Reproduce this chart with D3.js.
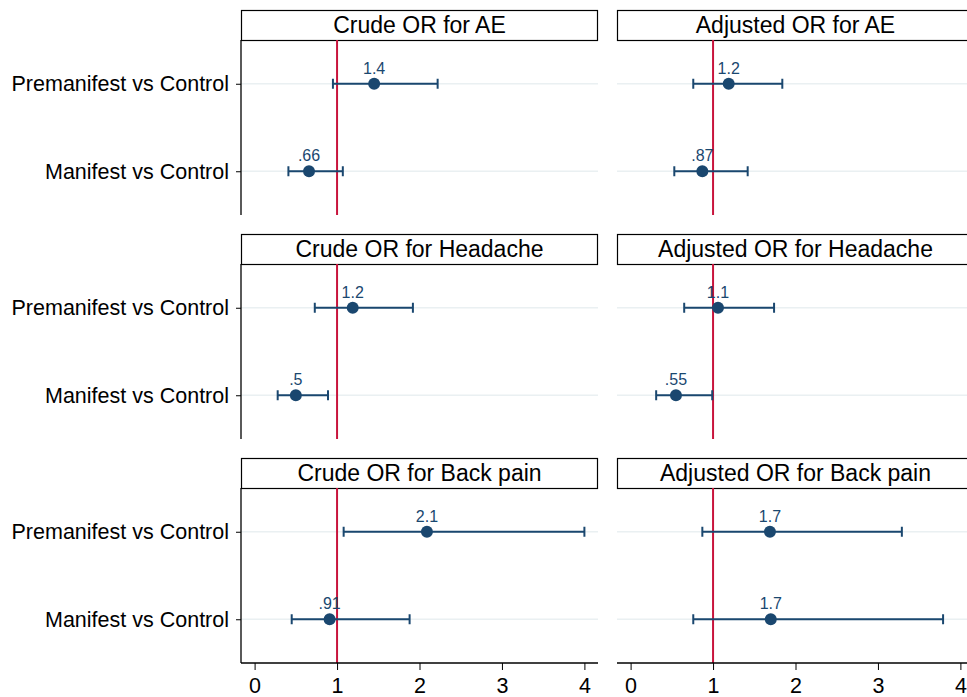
<!DOCTYPE html>
<html>
<head>
<meta charset="utf-8">
<script src="https://cdn.jsdelivr.net/npm/d3@7"></script>
<style>
  body { margin: 0; background: #fff; }
  text { font-family: "Liberation Sans", Arial, sans-serif; }
</style>
</head>
<body>
<div id="chart"></div>
<script>
// outcomes (rows of panels) and comparisons (rows inside a panel)
const outcomes = ["AE", "Headache", "Back pain"];
const categories = ["Premanifest vs Control", "Manifest vs Control"];
const xTicks = [0, 1, 2, 3, 4];

// crude odds ratios with 95% CI, one pair per outcome
const crudeOR = [[1.45, 0.66], [1.19, 0.50], [2.09, 0.91]];
const crudeLo = [[0.95, 0.41], [0.73, 0.28], [1.08, 0.45]];
const crudeHi = [[2.22, 1.07], [1.92, 0.89], [4.00, 1.88]];
const crudeLabels = [["1.4", ".66"], ["1.2", ".5"], ["2.1", ".91"]];

// adjusted odds ratios
const adjOR = [[1.19, 0.87], [1.06, 0.55], [1.69, 1.70]];
const adjLo = [[0.76, 0.53], [0.65, 0.31], [0.87, 0.76]];
const adjHi = [[1.84, 1.42], [1.74, 0.99], [3.29, 3.79]];
const adjLabels = [["1.2", ".87"], ["1.1", ".55"], ["1.7", "1.7"]];

const W = 967, H = 697;
const colX = [241, 617], panelW = 357;
const rowTop = [10, 234, 458], titleH = 30, plotH = 175;
const navy = "#1a476f", red = "#c8143c";

const svg = d3.select("#chart").append("svg")
    .attr("width", W).attr("height", H);

const x = d3.scaleLinear().domain([-0.165, 4.165]).range([0, panelW]);
const y = d3.scalePoint().domain(categories).range([0, plotH]).padding(0.5);

const columns = [
  {name: "Crude", or: crudeOR, lo: crudeLo, hi: crudeHi, lab: crudeLabels},
  {name: "Adjusted", or: adjOR, lo: adjLo, hi: adjHi, lab: adjLabels}
];

columns.forEach((col, ci) => {
  outcomes.forEach((outcome, ri) => {
    const g = svg.append("g")
        .attr("transform", `translate(${colX[ci]},${rowTop[ri]})`);

    // title strip
    g.append("rect")
        .attr("x", 0.5).attr("y", 0.5)
        .attr("width", panelW - 1).attr("height", titleH)
        .attr("fill", "#fff").attr("stroke", "#000").attr("stroke-width", 1.2);
    g.append("text")
        .attr("x", panelW / 2).attr("y", titleH / 2 + 8)
        .attr("text-anchor", "middle")
        .attr("font-size", 23)
        .text(`${col.name} OR for ${outcome}`);

    const p = g.append("g").attr("transform", `translate(0,${titleH})`);

    // light grid lines
    p.selectAll(".grid").data(categories).join("line")
        .attr("x1", 0).attr("x2", panelW)
        .attr("y1", d => y(d)).attr("y2", d => y(d))
        .attr("stroke", "#eaf0f2").attr("stroke-width", 1.5);

    // reference line at OR = 1
    p.append("line")
        .attr("x1", x(1)).attr("x2", x(1))
        .attr("y1", 0).attr("y2", plotH)
        .attr("stroke", red).attr("stroke-width", 2);

    const rows = categories.map((c, i) => ({
      cat: c, or: col.or[ri][i], lo: col.lo[ri][i], hi: col.hi[ri][i], lab: col.lab[ri][i]
    }));

    // CI bars with caps
    p.selectAll(".ci").data(rows).join("line")
        .attr("x1", d => x(d.lo)).attr("x2", d => x(d.hi))
        .attr("y1", d => y(d.cat)).attr("y2", d => y(d.cat))
        .attr("stroke", navy).attr("stroke-width", 2);
    ["lo", "hi"].forEach(k => {
      p.selectAll(".cap-" + k).data(rows).join("line")
          .attr("x1", d => x(d[k])).attr("x2", d => x(d[k]))
          .attr("y1", d => y(d.cat) - 5).attr("y2", d => y(d.cat) + 5)
          .attr("stroke", navy).attr("stroke-width", 2);
    });

    p.selectAll(".pt").data(rows).join("circle")
        .attr("cx", d => x(d.or)).attr("cy", d => y(d.cat))
        .attr("r", 6).attr("fill", navy);

    p.selectAll(".lab").data(rows).join("text")
        .attr("x", d => x(d.or)).attr("y", d => y(d.cat) - 10)
        .attr("text-anchor", "middle")
        .attr("font-size", 16).attr("fill", navy)
        .text(d => d.lab);

    if (ci === 0) {
      const yAxis = p.append("g")
          .call(d3.axisLeft(y).tickSize(5).tickPadding(7));
      yAxis.select(".domain").attr("stroke", "#000").attr("stroke-width", 1.3)
          .attr("d", `M0,0V${plotH}`);
      yAxis.selectAll(".tick line").attr("stroke", "#000");
      yAxis.selectAll(".tick text").attr("font-size", 21.5)
          .attr("font-family", "Liberation Sans, Arial, sans-serif").attr("fill", "#000");
    }

    if (ri === outcomes.length - 1) {
      const xAxis = p.append("g")
          .attr("transform", `translate(0,${plotH})`)
          .call(d3.axisBottom(x).tickValues(xTicks).tickFormat(d3.format("d"))
              .tickSize(7).tickPadding(8));
      xAxis.select(".domain").attr("stroke", "#000").attr("stroke-width", 1.3)
          .attr("d", `M0,0H${panelW}`);
      xAxis.selectAll(".tick line").attr("stroke", "#000");
      xAxis.selectAll(".tick text").attr("font-size", 21.5)
          .attr("font-family", "Liberation Sans, Arial, sans-serif").attr("fill", "#000");
    }
  });
});
</script>
</body>
</html>
